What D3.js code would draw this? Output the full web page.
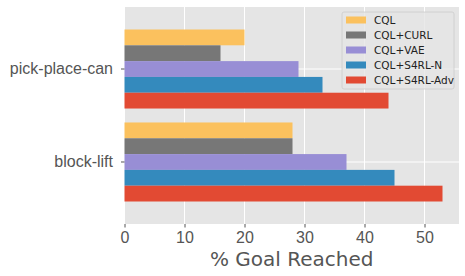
<!DOCTYPE html>
<html>
<head>
<meta charset="utf-8">
<script src="https://cdn.jsdelivr.net/npm/d3@7"></script>
<style>
  body { margin: 0; background: #fff; }
  svg { font-family: "DejaVu Sans", sans-serif; }
</style>
</head>
<body>
<script>
(function() {
    'use strict';

    var categories = ['pick-place-can', 'block-lift'];
    var seriesNames = ['CQL', 'CQL+CURL', 'CQL+VAE', 'CQL+S4RL-N', 'CQL+S4RL-Adv'];
    var seriesColors = ['#FBC15E', '#777777', '#988ED5', '#348ABD', '#E24A33'];
    // values per series, in the order of categories
    var cql = [20, 28];
    var cqlCurl = [16, 28];
    var cqlVae = [29, 37];
    var cqlS4rlN = [33, 45];
    var cqlS4rlAdv = [44, 53];
    var xTicks = [0, 10, 20, 30, 40, 50];

    var seriesValues = [cql, cqlCurl, cqlVae, cqlS4rlN, cqlS4rlAdv];

    var width = 465, height = 276;
    var margin = { left: 124.5, right: 6, top: 7, bottom: 52 };

    var svg = d3.select('body').append('svg')
        .attr('width', width)
        .attr('height', height);

    var x = d3.scaleLinear()
        .domain([0, 55.75])
        .range([margin.left, width - margin.right]);

    var y = d3.scaleBand()
        .domain(categories)
        .range([margin.top, height - margin.bottom])
        .paddingInner(0.15)
        .paddingOuter(0.242);

    var yInner = d3.scaleBand()
        .domain(seriesNames)
        .range([0, y.bandwidth()]);

    // background
    svg.append('rect')
        .attr('x', x.range()[0])
        .attr('y', margin.top)
        .attr('width', x.range()[1] - x.range()[0])
        .attr('height', height - margin.bottom - margin.top)
        .attr('fill', '#E5E5E5');

    // grid
    svg.append('g').selectAll('line.vg')
        .data(xTicks)
        .enter().append('line')
        .attr('x1', function(d) { return x(d); })
        .attr('x2', function(d) { return x(d); })
        .attr('y1', margin.top)
        .attr('y2', height - margin.bottom)
        .attr('stroke', '#fff')
        .attr('stroke-width', 1);

    svg.append('g').selectAll('line.hg')
        .data(categories)
        .enter().append('line')
        .attr('x1', x.range()[0])
        .attr('x2', x.range()[1])
        .attr('y1', function(d) { return y(d) + y.bandwidth() / 2; })
        .attr('y2', function(d) { return y(d) + y.bandwidth() / 2; })
        .attr('stroke', '#fff')
        .attr('stroke-width', 1);

    // bars
    seriesNames.forEach(function(name, i) {
        svg.append('g').selectAll('rect')
            .data(categories)
            .enter().append('rect')
            .attr('x', x(0))
            .attr('y', function(d) { return y(d) + yInner(name); })
            .attr('width', function(d, j) { return x(seriesValues[i][j]) - x(0); })
            .attr('height', yInner.bandwidth())
            .attr('fill', seriesColors[i]);
    });

    // axes
    var xAxis = svg.append('g')
        .attr('transform', 'translate(0,' + (height - margin.bottom) + ')')
        .call(d3.axisBottom(x).tickValues(xTicks).tickSize(3.5).tickPadding(4));
    xAxis.select('.domain').remove();
    xAxis.selectAll('line').attr('stroke', '#555');
    xAxis.selectAll('text').attr('fill', '#555').style('font-size', '16px');

    var yAxis = svg.append('g')
        .attr('transform', 'translate(' + margin.left + ',0)')
        .call(d3.axisLeft(y).tickSize(3.5).tickPadding(8));
    yAxis.select('.domain').remove();
    yAxis.selectAll('line').attr('stroke', '#555');
    yAxis.selectAll('text').attr('fill', '#555').style('font-size', '16px');

    svg.append('text')
        .attr('x', (x.range()[0] + x.range()[1]) / 2)
        .attr('y', 266)
        .attr('text-anchor', 'middle')
        .attr('fill', '#555')
        .style('font-size', '20px')
        .text('% Goal Reached');

    // legend
    var legend = svg.append('g').attr('transform', 'translate(342,12)');
    legend.append('rect')
        .attr('width', 112)
        .attr('height', 77)
        .attr('rx', 2)
        .attr('fill', '#E5E5E5')
        .attr('fill-opacity', 0.8)
        .attr('stroke', '#cccccc')
        .attr('stroke-width', 0.8);

    var item = legend.selectAll('g.item')
        .data(seriesNames)
        .enter().append('g')
        .attr('transform', function(d, i) { return 'translate(4,' + (8 + i * 15) + ')'; });

    item.append('rect')
        .attr('x', 0)
        .attr('y', -3.5)
        .attr('width', 20)
        .attr('height', 7)
        .attr('fill', function(d, i) { return seriesColors[i]; });

    item.append('text')
        .attr('x', 28)
        .attr('y', 0)
        .attr('dy', '0.35em')
        .attr('fill', '#222')
        .style('font-size', '10.5px')
        .text(function(d) { return d; });
}());
</script>
</body>
</html>
